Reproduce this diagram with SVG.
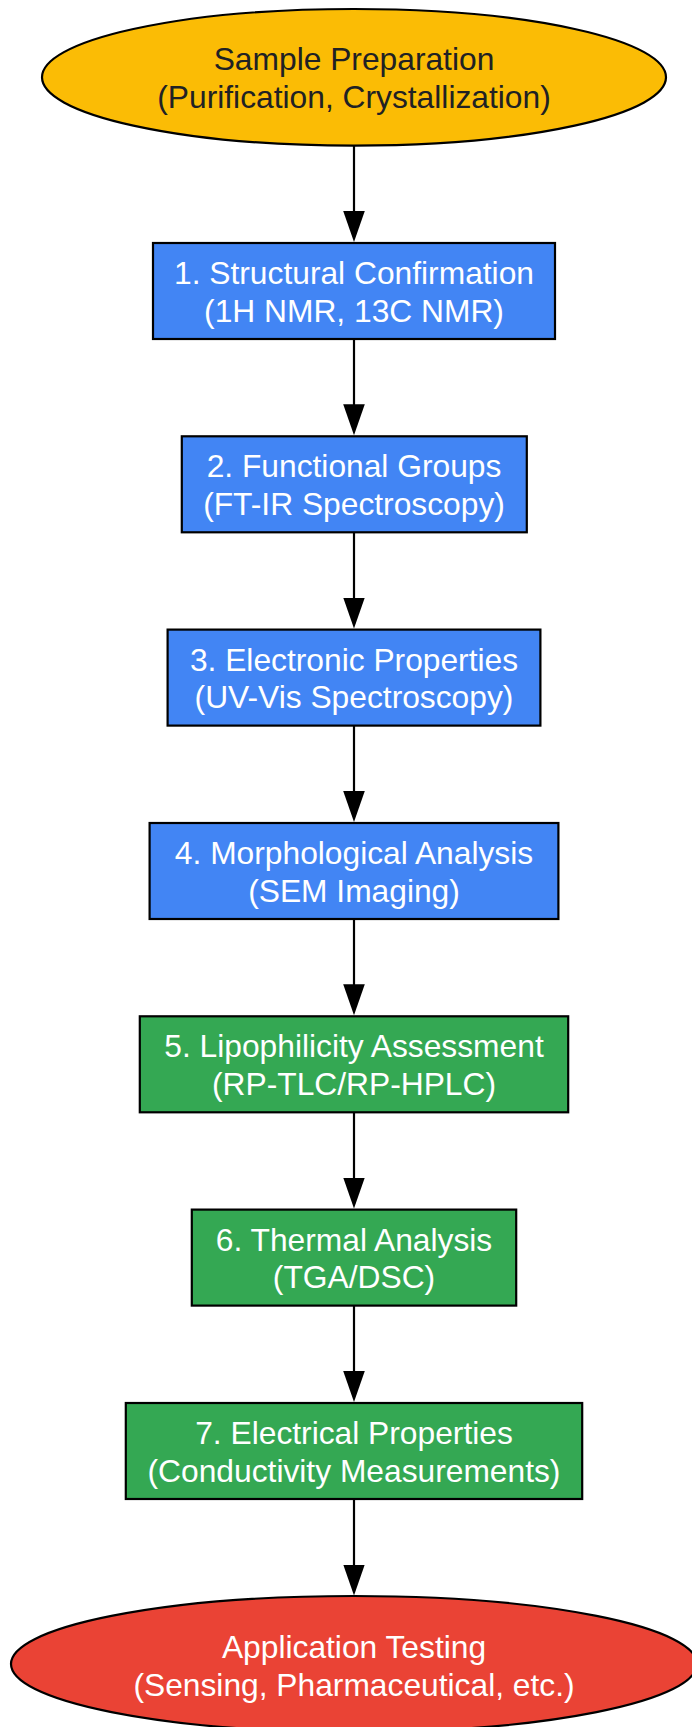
<svg xmlns="http://www.w3.org/2000/svg" width="692" height="1727" viewBox="0 0 692 1727">
<defs>
<style>
.n{stroke:#000;stroke-width:2.2}
.t{font-family:"Liberation Sans",Arial,sans-serif;font-size:31.75px;text-anchor:middle}
.w{fill:#fff}
.d{fill:#202124}
.blue{fill:#4285F4}
.green{fill:#34A853}
.e{stroke:#000;stroke-width:2.2;fill:none}
</style>
<marker id="ah" markerUnits="userSpaceOnUse" viewBox="0 0 32 22" refX="26" refY="11" markerWidth="32" markerHeight="22" orient="auto">
<path d="M0,0.2 L31,11 L0,21.8 Z" fill="#000"/>
</marker>
</defs>
<rect width="692" height="1727" fill="#fff"/>
<g id="connectors">
<line class="e" x1="354" y1="145.5" x2="354" y2="237" marker-end="url(#ah)"/>
<line class="e" x1="354" y1="339" x2="354" y2="430.3" marker-end="url(#ah)"/>
<line class="e" x1="354" y1="532.3" x2="354" y2="623.6" marker-end="url(#ah)"/>
<line class="e" x1="354" y1="725.6" x2="354" y2="817" marker-end="url(#ah)"/>
<line class="e" x1="354" y1="919" x2="354" y2="1010.3" marker-end="url(#ah)"/>
<line class="e" x1="354" y1="1112.3" x2="354" y2="1203.6" marker-end="url(#ah)"/>
<line class="e" x1="354" y1="1305.6" x2="354" y2="1397" marker-end="url(#ah)"/>
<line class="e" x1="354" y1="1499" x2="354" y2="1590.5" marker-end="url(#ah)"/>
</g>
<g id="start">
<ellipse class="n" cx="354" cy="77.3" rx="312" ry="68.3" fill="#FBBC05"/>
<text class="t d" x="354" y="70.3">Sample Preparation</text>
<text class="t d" x="354" y="108.2">(Purification, Crystallization)</text>
</g>
<g id="step1">
<rect class="n blue" x="153" y="243" width="402" height="96"/>
<text class="t w" x="354" y="284">1. Structural Confirmation</text>
<text class="t w" x="354" y="321.7">(1H NMR, 13C NMR)</text>
</g>
<g id="step2">
<rect class="n blue" x="181.8" y="436.3" width="345" height="96"/>
<text class="t w" x="354" y="477.3">2. Functional Groups</text>
<text class="t w" x="354" y="515">(FT-IR Spectroscopy)</text>
</g>
<g id="step3">
<rect class="n blue" x="167.6" y="629.6" width="372.8" height="96"/>
<text class="t w" x="354" y="670.6">3. Electronic Properties</text>
<text class="t w" x="354" y="708.3">(UV-Vis Spectroscopy)</text>
</g>
<g id="step4">
<rect class="n blue" x="149.6" y="823" width="408.8" height="96"/>
<text class="t w" x="354" y="864">4. Morphological Analysis</text>
<text class="t w" x="354" y="901.7">(SEM Imaging)</text>
</g>
<g id="step5">
<rect class="n green" x="139.8" y="1016.3" width="428.4" height="96"/>
<text class="t w" x="354" y="1057.3">5. Lipophilicity Assessment</text>
<text class="t w" x="354" y="1095">(RP-TLC/RP-HPLC)</text>
</g>
<g id="step6">
<rect class="n green" x="191.8" y="1209.6" width="324.4" height="96"/>
<text class="t w" x="354" y="1250.6">6. Thermal Analysis</text>
<text class="t w" x="354" y="1288.3">(TGA/DSC)</text>
</g>
<g id="step7">
<rect class="n green" x="125.8" y="1403" width="456.4" height="96"/>
<text class="t w" x="354" y="1444">7. Electrical Properties</text>
<text class="t w" x="354" y="1481.7">(Conductivity Measurements)</text>
</g>
<g id="end">
<ellipse class="n" cx="354" cy="1664" rx="343" ry="68" fill="#EA4335"/>
<text class="t w" x="354" y="1657.8">Application Testing</text>
<text class="t w" x="354" y="1695.5">(Sensing, Pharmaceutical, etc.)</text>
</g>
</svg>
